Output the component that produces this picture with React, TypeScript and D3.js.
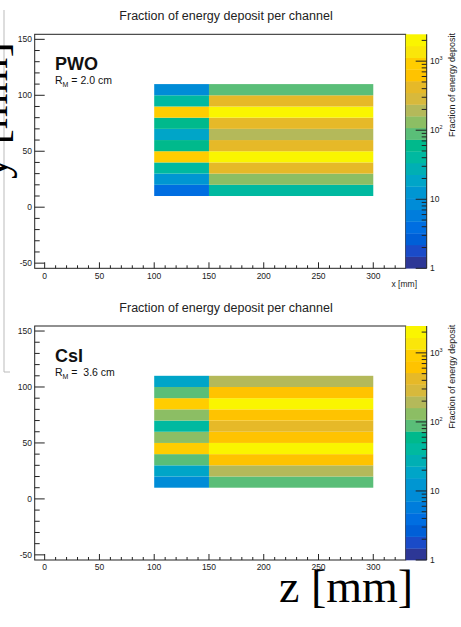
import React from 'react';
import * as d3 from 'd3';

// ---------- data ----------
const chartTitle = 'Fraction of energy deposit per channel';
const materials = ['PWO', 'CsI'];
const moliereText = ['= 2.0 cm', '=\u00a0 3.6 cm'];
const xEdges = [100, 150, 300];
const yEdges = [10, 20, 30, 40, 50, 60, 70, 80, 90, 100, 110];
// values listed from bottom row (y 10-20) to top row (y 100-110)
const pwoLeft = [3.9, 12.5, 41, 900, 58, 19, 60, 920, 40, 8.5];
const pwoRight = [40, 130, 420, 2050, 410, 190, 430, 2000, 424, 89];
const csiLeft = [8.5, 19, 90, 910, 128, 40, 130, 930, 88, 19];
const csiRight = [88, 190, 610, 2080, 625, 420, 630, 2100, 620, 195];
const xTicks = d3.range(0, 330, 10);
const yTicks = d3.range(-50, 155, 10);
const zMajor = [1, 10, 100, 1000];
const zMin = 1;
const zMax = 2450;
const nContours = 20;

// palette bands (bottom -> top)
const bandColors = [
  '#2d3796', '#1a4bc8', '#005fd7', '#006ee1', '#007ddc', '#008cd7', '#0096d2',
  '#00a5c8', '#00afb4', '#00b9a0', '#00b98c', '#5abe78', '#8cbe64', '#b4b95a',
  '#d7b93c', '#e6b928', '#ffc300', '#ffcd00', '#fae60a', '#faf500',
];

const FONT = 'Liberation Sans, Arial, Helvetica, sans-serif';
const SERIF = 'Liberation Serif, Times New Roman, serif';
const INK = '#222';

const logStep = (Math.log10(zMax) - Math.log10(zMin)) / nContours;
const colorOf = (v: number) => {
  let i = Math.floor((Math.log10(v) - Math.log10(zMin)) / logStep);
  i = Math.max(0, Math.min(nContours - 1, i));
  return bandColors[i];
};

function Panel({ dy, name, rm, leftCol, rightCol }: any) {
  const top = 34.3 + dy;
  const bottom = 268.3 + dy;
  const left = 34.7;
  const right = 405.7;
  const x = d3.scaleLinear().domain([-9.1, 329.6]).range([left, right]);
  const y = d3.scaleLinear().domain([-54.6, 154.5]).range([bottom, top]);
  const z = d3.scaleLog().domain([zMin, zMax]).range([bottom, top]);
  const cols = [leftCol, rightCol];
  const barL = 405.7;
  const barR = 426.7;
  const bandEdges = d3.range(nContours + 1).map((i) => Math.pow(10, i * logStep));
  const zMinor: number[] = [];
  for (const d of zMajor) for (let k = 2; k <= 9; k++) if (d * k <= zMax) zMinor.push(d * k);

  return (
    <g>
      <text x={226} y={20 + dy} textAnchor="middle" fontFamily={FONT} fontSize={12.5} fill={INK}>
        {chartTitle}
      </text>
      {/* cells */}
      {cols.map((col: number[], c: number) =>
        col.map((v: number, r: number) => (
          <rect
            key={`${c}-${r}`}
            x={x(xEdges[c])}
            width={x(xEdges[c + 1]) - x(xEdges[c])}
            y={y(yEdges[r + 1])}
            height={y(yEdges[r]) - y(yEdges[r + 1])}
            fill={colorOf(v)}
          />
        ))
      )}
      {/* frame */}
      <rect x={left} y={top} width={right - left} height={bottom - top} fill="none" stroke={INK} strokeWidth={1} />
      {/* x ticks */}
      {xTicks.map((t) => {
        const major = t % 50 === 0;
        return (
          <g key={'x' + t}>
            <line x1={x(t)} x2={x(t)} y1={bottom} y2={bottom - (major ? 6 : 3)} stroke={INK} strokeWidth={1} />
            {major && (
              <text x={x(t)} y={bottom + 10.3} textAnchor="middle" fontFamily={FONT} fontSize={8.5} fill={INK}>
                {t}
              </text>
            )}
          </g>
        );
      })}
      {/* y ticks */}
      {yTicks.map((t) => {
        const major = t % 50 === 0;
        return (
          <g key={'y' + t}>
            <line x1={left} x2={left + (major ? 10 : 5)} y1={y(t)} y2={y(t)} stroke={INK} strokeWidth={1} />
            {major && (
              <text x={32} y={y(t) + 3} textAnchor="end" fontFamily={FONT} fontSize={8.5} fill={INK}>
                {t}
              </text>
            )}
          </g>
        );
      })}
      <text x={417} y={bottom + 19} textAnchor="end" fontFamily={FONT} fontSize={8.5} fill={INK}>
        x [mm]
      </text>
      {/* material labels */}
      <text x={55} y={70 + dy} fontFamily={FONT} fontWeight="bold" fontSize={18} fill="#111">
        {name}
      </text>
      <text x={55} y={84 + dy} fontFamily={FONT} fontSize={10.5} fill="#111" style={{ whiteSpace: 'pre' }}>
        R
        <tspan fontSize={7} dy={3}>M</tspan>
        <tspan dy={-3}>{' ' + rm}</tspan>
      </text>
      {/* color bar */}
      {d3.range(nContours).map((i) => (
        <rect
          key={'b' + i}
          x={barL}
          width={barR - barL}
          y={z(bandEdges[i + 1])}
          height={z(bandEdges[i]) - z(bandEdges[i + 1]) + 0.3}
          fill={bandColors[i]}
        />
      ))}
      <line x1={barR} x2={barR} y1={top} y2={bottom} stroke={INK} strokeWidth={1} />
      {zMinor.map((t) => (
        <line key={'zm' + t} x1={barR} x2={barR - 5} y1={z(t)} y2={z(t)} stroke={INK} strokeWidth={1} />
      ))}
      {zMajor.map((t, i) => (
        <g key={'zM' + t}>
          <line x1={barR} x2={barR - 11} y1={z(t)} y2={z(t)} stroke={INK} strokeWidth={1} />
          <text x={430} y={z(t) + 3} fontFamily={FONT} fontSize={8.5} fill={INK}>
            {i === 0 ? '1' : i === 1 ? '10' : (
              <>
                10<tspan fontSize={5.5} dy={-4}>{i}</tspan>
              </>
            )}
          </text>
        </g>
      ))}
      <text
        transform={`translate(455,${33 + dy}) rotate(-90)`}
        textAnchor="end"
        fontFamily={FONT}
        fontSize={9}
        fill={INK}
      >
        Fraction of energy deposit
      </text>
    </g>
  );
}

export default function App() {
  return (
    <svg width={461} height={627} style={{ position: 'absolute', left: 0, top: 0, background: '#fff' }}>
      <rect width={461} height={627} fill="#fff" />
      <Panel dy={0} name={materials[0]} rm={moliereText[0]} leftCol={pwoLeft} rightCol={pwoRight} />
      <Panel dy={291.7} name={materials[1]} rm={moliereText[1]} leftCol={csiLeft} rightCol={csiRight} />
      {/* pasted overlay labels */}
      <path d="M4,10 V372 H10" fill="none" stroke="#bbb" strokeWidth={1} />
      <text transform="translate(7,179) rotate(-90)" fontFamily={SERIF} fontSize={46} fill="#000">
        y [mm]
      </text>
      <rect x={272} y={572} width={150} height={46} fill="#fff" />
      <text x={279} y={602} fontFamily={SERIF} fontSize={46} fill="#000">
        z [mm]
      </text>
    </svg>
  );
}
